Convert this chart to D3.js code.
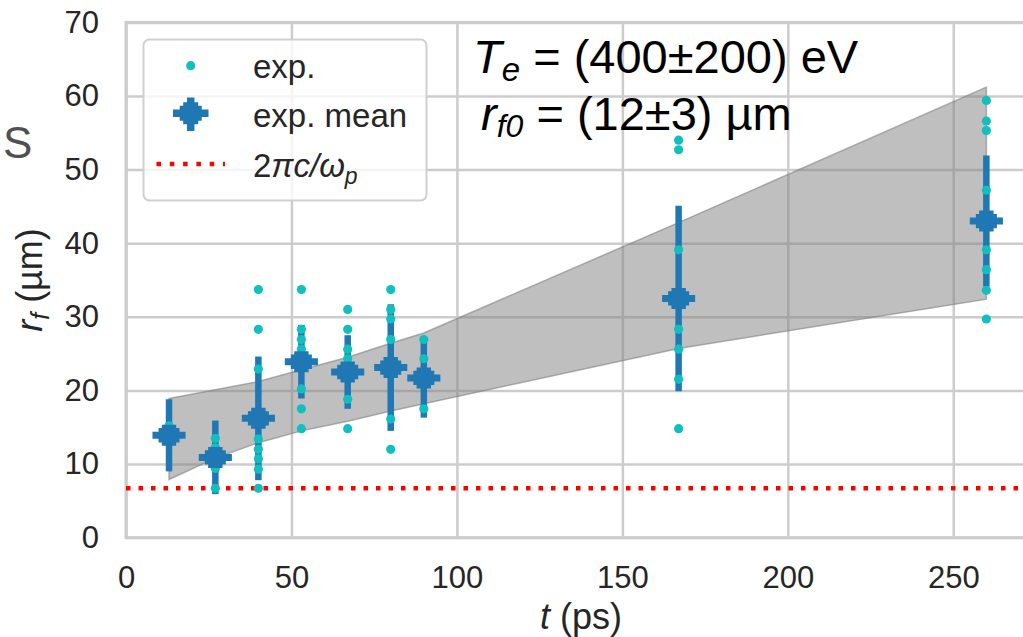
<!DOCTYPE html>
<html>
<head>
<meta charset="utf-8">
<script src="https://cdn.jsdelivr.net/npm/d3@7"></script>
<style>
  body { margin: 0; background: #fff; }
  svg { display: block; font-family: "Liberation Sans", Arial, sans-serif; }
</style>
</head>
<body>
<div id="chart"></div>
<script>
const meanT = [13, 27, 40, 53, 67, 80, 90, 167, 260];
const meanR = [13.9, 10.9, 16.2, 23.9, 22.5, 23.1, 21.7, 32.5, 43.0];
const meanErr = [4.9, 5.0, 8.4, 5.0, 5.0, 8.6, 5.4, 12.6, 8.9];
const tErr = 5;

const expT = [
  13,
  27, 27, 27, 27,
  40, 40, 40, 40, 40, 40, 40, 40,
  53, 53, 53, 53, 53, 53, 53,
  67, 67, 67, 67, 67, 67,
  80, 80, 80, 80, 80, 80,
  90, 90, 90,
  167, 167, 167, 167, 167, 167, 167,
  260, 260, 260, 260, 260, 260, 260, 260
];
const expR = [
  15.2,
  13.5, 12.2, 9.4, 6.7,
  33.7, 28.3, 22.9, 13.4, 12.0, 10.7, 9.3, 6.7,
  33.7, 28.3, 26.9, 25.6, 20.2, 17.5, 14.8,
  31.0, 28.3, 25.6, 24.3, 18.8, 14.8,
  33.7, 31.0, 29.7, 26.9, 16.1, 12.0,
  26.9, 24.3, 17.5,
  54.0, 52.7, 39.1, 28.3, 25.6, 21.5, 14.8,
  59.4, 56.6, 55.3, 47.2, 39.1, 36.4, 33.6, 29.7
];

// model band
const bandT = [13, 27, 40, 53, 67, 80, 90, 167, 260];
const bandLow = [7.9, 10.8, 12.9, 14.5, 15.8, 17.2, 18.2, 25.7, 32.4];
const bandHigh = [18.9, 20.1, 21.2, 22.8, 24.5, 26.4, 27.8, 42.8, 61.2];

const plasmaR = 6.7;

const xTicks = [0, 50, 100, 150, 200, 250];
const yTicks = [0, 10, 20, 30, 40, 50, 60, 70];

const width = 1023, height = 637;
const plot = { left: 126, right: 1036, top: 22.4, bottom: 537.6 };

const blue = "#1f77b4", cyan = "#12bfbf", grid = "#cccccc", ink = "#262626";

const svg = d3.select("#chart").append("svg")
  .attr("width", width)
  .attr("height", height);

const x = d3.scaleLinear().domain([0, 275]).range([plot.left, plot.right]);
const y = d3.scaleLinear().domain([0, 70]).range([plot.bottom, plot.top]);

// grid
svg.append("g")
  .attr("transform", `translate(0,${plot.bottom})`)
  .call(d3.axisBottom(x).tickValues(xTicks).tickSize(-(plot.bottom - plot.top)).tickFormat(""))
  .call(g => g.select(".domain").remove())
  .call(g => g.selectAll("line").attr("stroke", grid).attr("stroke-width", 2.5));

svg.append("g")
  .attr("transform", `translate(${plot.left},0)`)
  .call(d3.axisLeft(y).tickValues(yTicks).tickSize(-(plot.right - plot.left)).tickFormat(""))
  .call(g => g.select(".domain").remove())
  .call(g => g.selectAll("line").attr("stroke", grid).attr("stroke-width", 2.5));

// frame
svg.append("rect")
  .attr("x", plot.left).attr("y", plot.top)
  .attr("width", plot.right - plot.left).attr("height", plot.bottom - plot.top)
  .attr("fill", "none").attr("stroke", grid).attr("stroke-width", 3);

// tick labels
svg.append("g")
  .attr("transform", `translate(0,${plot.bottom})`)
  .call(d3.axisBottom(x).tickValues(xTicks).tickSize(0).tickPadding(28))
  .call(g => g.select(".domain").remove())
  .call(g => g.selectAll("text").attr("font-size", 31).attr("fill", ink)
    .attr("font-family", "Liberation Sans, Arial, sans-serif"));

svg.append("g")
  .attr("transform", `translate(${plot.left},0)`)
  .call(d3.axisLeft(y).tickValues(yTicks).tickSize(0).tickPadding(27))
  .call(g => g.select(".domain").remove())
  .call(g => g.selectAll("text").attr("font-size", 31).attr("fill", ink)
    .attr("font-family", "Liberation Sans, Arial, sans-serif"));

// axis labels
const xl = svg.append("text")
  .attr("x", (plot.left + plot.right) / 2).attr("y", 629)
  .attr("text-anchor", "middle").attr("font-size", 36).attr("fill", ink);
xl.append("tspan").attr("font-style", "italic").text("t");
xl.append("tspan").text(" (ps)");

const yl = svg.append("text")
  .attr("transform", `translate(42,${(plot.top + plot.bottom) / 2}) rotate(-90)`)
  .attr("text-anchor", "middle").attr("font-size", 36).attr("fill", ink);
yl.append("tspan").attr("font-style", "italic").text("r");
yl.append("tspan").attr("font-style", "italic").attr("font-size", 25).attr("dy", 7).text("f");
yl.append("tspan").attr("dy", -7).text(" (µm)");

svg.append("text")
  .attr("x", 3).attr("y", 158)
  .attr("font-size", 44).attr("font-style", "normal").attr("fill", "#505050")
  .text("S");

// band
const area = d3.area()
  .x((d, i) => x(bandT[i]))
  .y0((d, i) => y(bandLow[i]))
  .y1((d, i) => y(bandHigh[i]));

svg.append("path")
  .datum(bandT)
  .attr("d", area)
  .attr("fill", "#808080").attr("fill-opacity", 0.5)
  .attr("stroke", "#808080").attr("stroke-opacity", 0.6).attr("stroke-width", 1.5);

// plasma wavelength line
svg.append("line")
  .attr("x1", plot.left).attr("x2", plot.right)
  .attr("y1", y(plasmaR)).attr("y2", y(plasmaR))
  .attr("stroke", "#ff0000").attr("stroke-width", 4.5)
  .attr("stroke-dasharray", "4.5 8");

// error bars
const errs = svg.append("g").attr("stroke", blue).attr("stroke-width", 6.5);
errs.selectAll("line.v")
  .data(meanT).enter().append("line")
  .attr("x1", d => x(d)).attr("x2", d => x(d))
  .attr("y1", (d, i) => y(meanR[i] - meanErr[i]))
  .attr("y2", (d, i) => y(meanR[i] + meanErr[i]));
errs.selectAll("line.h")
  .data(meanT).enter().append("line")
  .attr("x1", d => x(d - tErr)).attr("x2", d => x(d + tErr))
  .attr("y1", (d, i) => y(meanR[i])).attr("y2", (d, i) => y(meanR[i]))
  .attr("stroke-width", 7);

// individual points
svg.append("g")
  .selectAll("circle")
  .data(expT).enter().append("circle")
  .attr("cx", d => x(d))
  .attr("cy", (d, i) => y(expR[i]))
  .attr("r", 4.6)
  .attr("fill", cyan);

// mean markers (filled plus)
const plus = (s, a) => `M${-a},${-s}L${a},${-s}L${a},${-a}L${s},${-a}L${s},${a}L${a},${a}L${a},${s}L${-a},${s}L${-a},${a}L${-s},${a}L${-s},${-a}L${-a},${-a}Z`;
svg.append("g")
  .selectAll("path")
  .data(meanT).enter().append("path")
  .attr("transform", (d, i) => `translate(${x(d)},${y(meanR[i])})`)
  .attr("d", plus(10.5, 7.2))
  .attr("fill", blue);

// legend
const lg = svg.append("g");
lg.append("rect")
  .attr("x", 143.5).attr("y", 39.5).attr("width", 283).attr("height", 161)
  .attr("rx", 6)
  .attr("fill", "#fff").attr("fill-opacity", 0.8)
  .attr("stroke", "#d0d0d0").attr("stroke-width", 2);

lg.append("circle").attr("cx", 190.7).attr("cy", 65.7).attr("r", 4.6).attr("fill", cyan);

lg.append("line").attr("x1", 173).attr("x2", 208.5).attr("y1", 113.3).attr("y2", 113.3)
  .attr("stroke", blue).attr("stroke-width", 7.5);
lg.append("line").attr("x1", 190.7).attr("x2", 190.7).attr("y1", 97.5).attr("y2", 131)
  .attr("stroke", blue).attr("stroke-width", 7.5);
lg.append("path").attr("transform", "translate(190.7,113.3)").attr("d", plus(11, 7.5)).attr("fill", blue);

lg.append("line").attr("x1", 156.5).attr("x2", 225).attr("y1", 164).attr("y2", 164)
  .attr("stroke", "#ff0000").attr("stroke-width", 4.5).attr("stroke-dasharray", "4.5 8.8");

const legendLabels = ["exp.", "exp. mean"];
lg.selectAll("text.lab")
  .data(legendLabels).enter().append("text")
  .attr("x", 253).attr("y", (d, i) => 78.3 + i * 48.4)
  .attr("font-size", 33).attr("fill", ink)
  .text(d => d);

const pl = lg.append("text").attr("x", 253).attr("y", 176.7).attr("font-size", 33).attr("fill", ink);
pl.append("tspan").text("2");
pl.append("tspan").attr("font-style", "italic").text("πc/ω");
pl.append("tspan").attr("font-style", "italic").attr("font-size", 23).attr("dy", 7).text("p");

// annotations
const a1 = svg.append("text").attr("x", 473).attr("y", 72.7).attr("font-size", 47).attr("fill", "#000");
a1.append("tspan").attr("font-style", "italic").text("T");
a1.append("tspan").attr("font-style", "italic").attr("font-size", 33).attr("dy", 8).text("e");
a1.append("tspan").attr("dy", -8).text(" = (400±200) eV");

const a2 = svg.append("text").attr("x", 481).attr("y", 130).attr("font-size", 47).attr("fill", "#000");
a2.append("tspan").attr("font-style", "italic").text("r");
a2.append("tspan").attr("font-style", "italic").attr("font-size", 32).attr("dy", 7).text("f0");
a2.append("tspan").attr("dy", -7).text(" = (12±3) µm");
</script>
</body>
</html>
